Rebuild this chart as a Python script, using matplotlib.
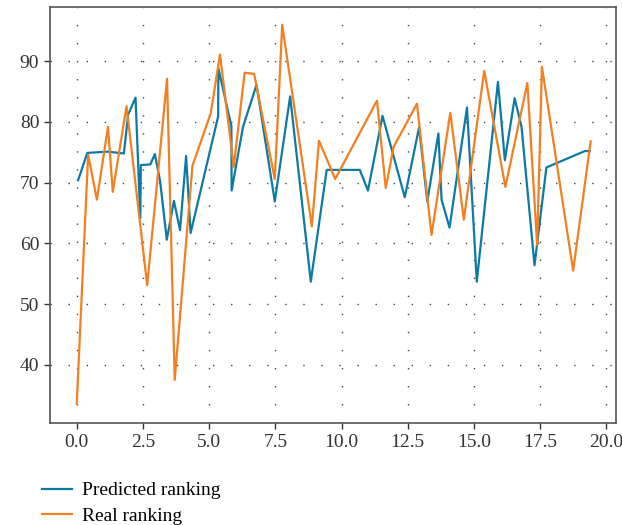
import matplotlib
matplotlib.use("Agg")
import matplotlib.pyplot as plt

# predicted ranking (x, value)
pred_x = [0.05, 0.4, 1.18, 1.78, 1.94, 2.22, 2.4, 2.42, 2.78, 2.95, 3.15, 3.4, 3.67,
          3.9, 4.13, 4.3, 5.34, 5.35, 5.84, 5.85, 6.28, 6.79, 7.48, 8.06, 8.84, 9.44,
          10.69, 11.0, 11.55, 12.39, 12.93, 13.24, 13.66, 13.78, 14.08, 14.74, 15.11,
          15.91, 16.17, 16.54, 16.8, 17.29, 17.74, 19.19, 19.38]
pred_y = [70.4, 74.9, 75.1, 74.8, 81.2, 84.0, 64.1, 72.9, 73.0, 74.7, 70.2, 60.6, 67.0,
          62.2, 74.4, 61.7, 80.9, 88.8, 79.3, 68.7, 79.2, 86.1, 66.9, 84.2, 53.7, 72.1,
          72.1, 68.7, 81.0, 67.6, 79.1, 66.9, 78.1, 67.2, 62.6, 82.4, 53.7,
          86.6, 73.7, 83.9, 79.2, 56.4, 72.5, 75.2, 75.2]

# real ranking
real_x = [0.0, 0.43, 0.76, 1.18, 1.36, 1.88, 2.66, 3.41, 3.7, 4.37, 5.06, 5.41, 5.93,
          6.34, 6.7, 7.48, 7.76, 8.88, 9.15, 9.76, 11.34, 11.67, 11.97, 12.85, 13.4,
          14.11, 14.62, 15.39, 16.19, 17.02, 17.39, 17.57, 18.75, 19.41]
real_y = [33.6, 74.6, 67.2, 79.2, 68.5, 82.6, 53.1, 87.1, 37.5, 72.8, 81.4, 91.1, 72.6,
          88.1, 87.9, 70.6, 96.0, 62.8, 76.9, 70.6, 83.5, 69.1, 75.9, 83.0, 61.4,
          81.5, 63.9, 88.4, 69.3, 86.4, 59.7, 89.1, 55.5, 76.8]

plt.rcParams["font.family"] = ["Liberation Serif", "DejaVu Serif"]

fig = plt.figure(figsize=(6.22, 5.25), dpi=100)
ax = fig.add_axes([0.080, 0.194, 0.910, 0.793])

l1, = ax.plot(pred_x, pred_y, color="#0b7ba5", lw=1.6, label="Predicted ranking")
l2, = ax.plot(real_x, real_y, color="#f47f20", lw=1.6, label="Real ranking")

ax.set_xlim(-1.02, 20.36)
ax.set_ylim(30.4, 98.95)
ax.set_xticks([0, 2.5, 5, 7.5, 10, 12.5, 15, 17.5, 20])
ax.set_yticks([40, 50, 60, 70, 80, 90])
ax.grid(True, color="#444444", linestyle=(0, (1, 12)), linewidth=1.0)
ax.tick_params(labelsize=14, colors="#333333", length=4, width=1)
for s in ax.spines.values():
    s.set_color("#555555")
    s.set_linewidth(1.2)

fig.legend(handles=[l1, l2], loc="upper left", bbox_to_anchor=(0.055, 0.097),
           frameon=False, fontsize=14, handlelength=1.55, handletextpad=0.5,
           labelspacing=0.4, borderaxespad=0)

fig.savefig("out.png", dpi=100)
